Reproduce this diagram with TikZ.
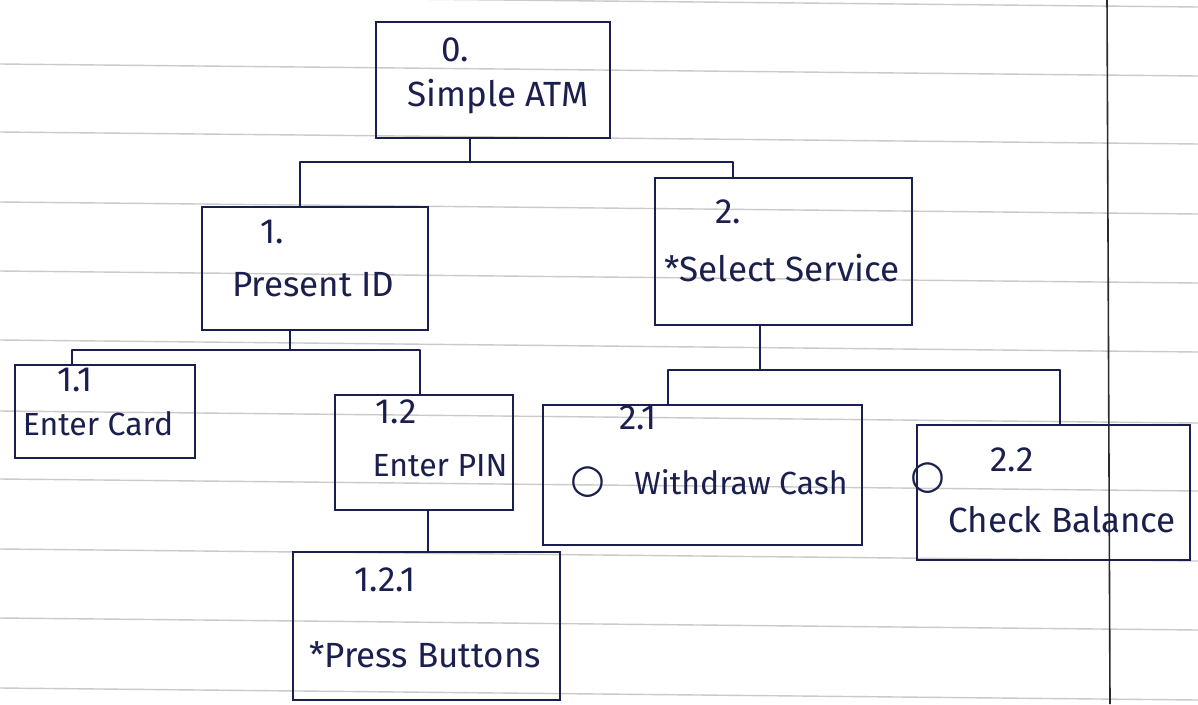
\documentclass[tikz,border=0pt]{standalone}
\usepackage{fontspec}
\setmainfont{Fira Sans}
\newfontfamily\symf{DejaVu Sans}
\definecolor{ink}{HTML}{1B1F4E}
\definecolor{rule}{HTML}{CACACA}
\definecolor{margin}{HTML}{2A2A2A}
\tikzset{
  box/.style={draw=ink, line width=2.6pt, inner sep=0pt},
  txt/.style={text=ink, inner sep=0pt, font=\fontsize{35}{40}\selectfont},
  smalltxt/.style={txt, font=\fontsize{32}{38}\selectfont},
  circ/.style={txt, font=\symf\fontsize{40}{44}\selectfont},
  conn/.style={draw=ink, line width=2.6pt, line cap=round, line join=round},
  ruling/.style={draw=rule, line width=1.4pt}
}
\begin{document}
\begin{tikzpicture}[x=1pt,y=-1pt]
\useasboundingbox (0,0) rectangle (1198,704);
\fill[white] (0,0) rectangle (1198,704);
% ruled paper
\foreach \yy in {-5,64,132,202,271,340,411,479,549,618,688}
  \draw[ruling] (0,\yy) -- (1198,\yy+12);
\draw[margin, line width=1.6pt] (1107,0) -- (1110,704);

% boxes
\node[box, minimum width=234pt, minimum height=116pt] (b0) at (493,80) {};
\node[box, minimum width=226pt, minimum height=123pt] (b1) at (315,268.5) {};
\node[box, minimum width=257pt, minimum height=147pt] (b2) at (783.5,251.5) {};
\node[box, minimum width=180pt, minimum height=93pt] (b11) at (105,411.5) {};
\node[box, minimum width=178pt, minimum height=115pt] (b12) at (424,452.5) {};
\node[box, minimum width=267pt, minimum height=148pt] (b121) at (426.5,626) {};
\node[box, minimum width=319pt, minimum height=140pt] (b21) at (702.5,475) {};
\node[box, minimum width=273pt, minimum height=135pt] (b22) at (1053.5,492.5) {};

% texts
\node[txt] (t0n) at (455,50) {0.};
\node[txt] (t0) at (498,97) {Simple ATM};
\node[txt] (t1n) at (272,232) {1.};
\node[txt] (t1) at (313,285) {Present ID};
\node[txt] (t2n) at (728,212) {2.};
\node[txt] (t2) at (782,268) {*Select Service};
\node[txt] (t11n) at (75,380) {1.1};
\node[smalltxt] (t11) at (98,424) {Enter Card};
\node[txt] (t12n) at (396,412) {1.2};
\node[smalltxt] (t12) at (440,466) {Enter PIN};
\node[txt] (t21n) at (638,418) {2.1};
\node[circ] (t21c) at (588,482) {○};
\node[smalltxt] (t21) at (741,482) {Withdraw Cash};
\node[circ] (t22c) at (928,478) {○};
\node[txt] (t22n) at (1012,460) {2.2};
\node[txt] (t22) at (1062,520) {Check Balance};
\node[txt] (t121n) at (385,580) {1.2.1};
\node[txt] (t121) at (425,655) {*Press Buttons};

% junctions and legs
\coordinate (j0) at (470,162);
\coordinate (l1) at (300,0);
\coordinate (l2) at (733,0);
\coordinate (j1) at (290,350);
\coordinate (l11) at (72,0);
\coordinate (l12) at (420,0);
\coordinate (j2) at (760,370);
\coordinate (l21) at (668,0);
\coordinate (l22) at (1060,0);
\coordinate (s12) at (428,0);

\draw[conn] (b0.south -| j0) -- (j0);
\draw[conn] (b1.north -| l1) |- (j0) -| (b2.north -| l2);
\draw[conn] (b1.south -| j1) -- (j1);
\draw[conn] (b11.north -| l11) |- (j1) -| (b12.north -| l12);
\draw[conn] (b2.south -| j2) -- (j2);
\draw[conn] (b21.north -| l21) |- (j2) -| (b22.north -| l22);
\draw[conn] (b12.south -| s12) -- (b121.north -| s12);
\end{tikzpicture}
\end{document}
